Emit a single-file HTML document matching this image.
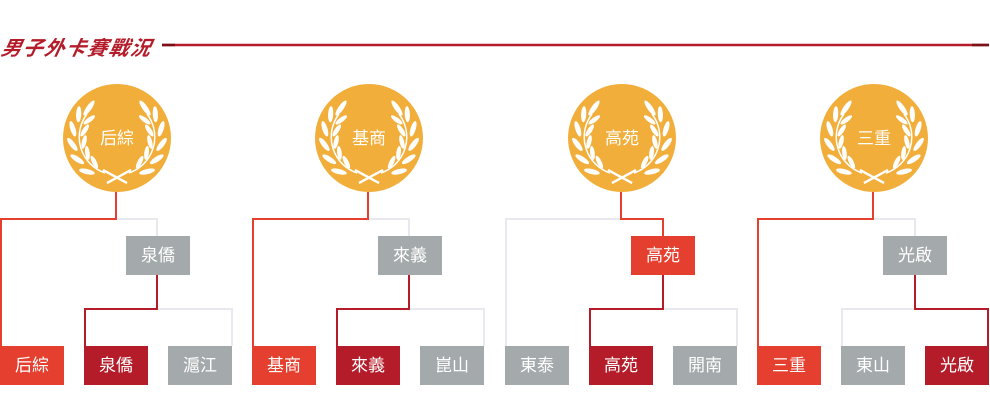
<!DOCTYPE html><html><head><meta charset="utf-8"><style>
body{margin:0;background:#fff;width:990px;height:420px;overflow:hidden;position:relative;font-family:"Liberation Sans","Noto Sans CJK TC",sans-serif}
.t{position:absolute;left:2px;top:32px;font-size:20px;font-style:italic;color:#b41c2a;letter-spacing:1.5px;transform:skewX(-12deg);font-weight:bold}
.b{position:absolute;width:64px;height:39px;color:#fff;font-size:17px;line-height:39px;text-align:center}
.r{background:#e5402f}.d{background:#b41c2a}.g{background:#a4a9ac}
</style></head><body>
<div class="t">男子外卡賽戰況</div>
<svg width="990" height="420" style="position:absolute;left:0;top:0">
<defs>
<g id="p"><ellipse cx="-7" cy="-3" rx="2.6" ry="8" transform="rotate(-25 -7 -3)" fill="#fff"/><ellipse cx="5" cy="-3" rx="2.3" ry="7" transform="rotate(25 5 -3)" fill="#fff"/></g>
<g id="w">
<use href="#p" transform="rotate(-52) translate(-38,0)"/>
<use href="#p" transform="rotate(-32) translate(-38,0)"/>
<use href="#p" transform="rotate(-12) translate(-38,0)"/>
<use href="#p" transform="rotate(8) translate(-38,0)"/>
<use href="#p" transform="rotate(28) translate(-38,0)"/>
<ellipse cx="-28" cy="-30" rx="2.6" ry="9" transform="rotate(35 -28 -30)" fill="#fff"/>
<path d="M-12,35 A38,38 0 0 1 -30,-24" stroke="#fff" stroke-width="1.5" fill="none"/>
<path d="M-14,32 L10,45 M14,32 L-10,45" stroke="#fff" stroke-width="2.2" fill="none"/>
</g>
<g id="laurel"><circle r="54" fill="#f2ae3a"/><use href="#w"/><use href="#w" transform="scale(-1,1)"/></g>
</defs>
<line x1="162" y1="45" x2="989" y2="45" stroke="#b41c2a" stroke-width="2.5"/>
<line x1="162" y1="45" x2="175" y2="45" stroke="#7a0f18" stroke-width="2.5"/>
<line x1="972" y1="45" x2="989" y2="45" stroke="#7a0f18" stroke-width="2.5"/>
<g fill="none" stroke-width="2">
<path d="M116,219 H157 V236" stroke="#e8e9ee"/><path d="M157,309 H232 V346" stroke="#e8e9ee"/>
<path d="M116,192 V219 H1 V346" stroke="#e5402f"/><path d="M157,275 V309 H85 V346" stroke="#b41c2a"/>
<path d="M368,219 H409 V236" stroke="#e8e9ee"/><path d="M409,309 H484 V346" stroke="#e8e9ee"/>
<path d="M368,192 V219 H253 V346" stroke="#e5402f"/><path d="M409,275 V309 H337 V346" stroke="#b41c2a"/>
<path d="M621,219 H506 V346" stroke="#e8e9ee"/><path d="M663,309 H737 V346" stroke="#e8e9ee"/>
<path d="M621,192 V219 H663 V236" stroke="#e5402f"/><path d="M663,275 V309 H590 V346" stroke="#b41c2a"/>
<path d="M873,219 H915 V236" stroke="#e8e9ee"/><path d="M915,309 H842 V346" stroke="#e8e9ee"/>
<path d="M873,192 V219 H758 V346" stroke="#e5402f"/><path d="M915,275 V309 H988 V346" stroke="#b41c2a"/>
</g>
<use href="#laurel" transform="translate(117,138)"/>
<use href="#laurel" transform="translate(369,138)"/>
<use href="#laurel" transform="translate(622,138)"/>
<use href="#laurel" transform="translate(874,138)"/>
<g fill="#fff" font-size="17" text-anchor="middle" font-family="Liberation Sans,Noto Sans CJK TC,sans-serif">
<text x="117" y="144">后綜</text><text x="369" y="144">基商</text><text x="622" y="144">高苑</text><text x="874" y="144">三重</text>
</g>
</svg>
<div class="b g" style="left:126px;top:236px">泉僑</div>
<div class="b g" style="left:378px;top:236px">來義</div>
<div class="b r" style="left:631px;top:236px">高苑</div>
<div class="b g" style="left:883px;top:236px">光啟</div>
<div class="b r" style="left:0;top:346px">后綜</div>
<div class="b d" style="left:84px;top:346px">泉僑</div>
<div class="b g" style="left:168px;top:346px">滬江</div>
<div class="b r" style="left:252px;top:346px">基商</div>
<div class="b d" style="left:336px;top:346px">來義</div>
<div class="b g" style="left:420px;top:346px">崑山</div>
<div class="b g" style="left:505px;top:346px">東泰</div>
<div class="b d" style="left:589px;top:346px">高苑</div>
<div class="b g" style="left:673px;top:346px">開南</div>
<div class="b r" style="left:757px;top:346px">三重</div>
<div class="b g" style="left:841px;top:346px">東山</div>
<div class="b d" style="left:925px;top:346px">光啟</div>
</body></html>
